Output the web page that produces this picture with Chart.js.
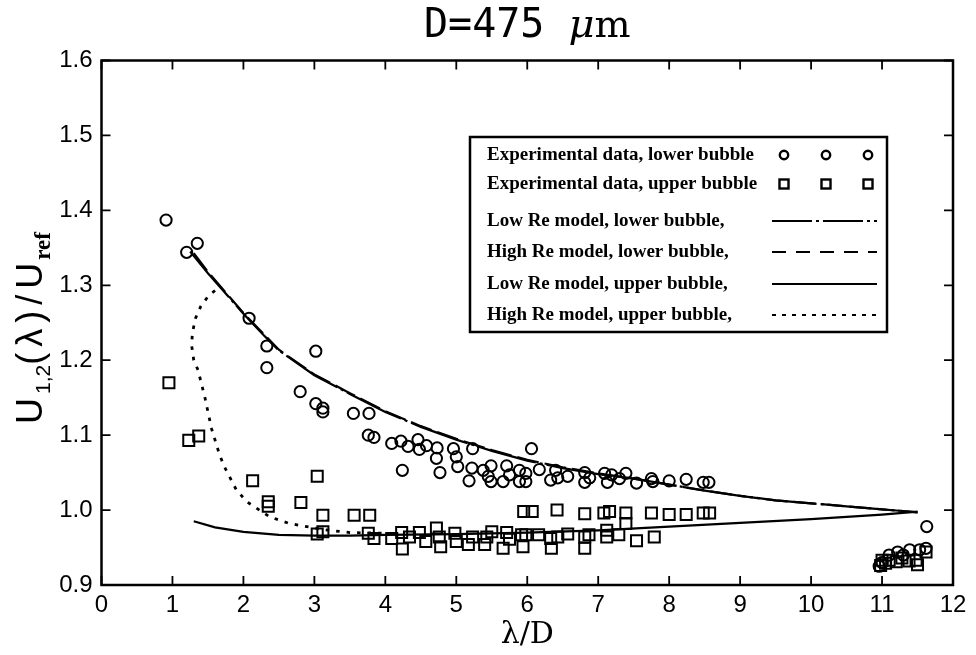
<!DOCTYPE html>
<html>
<head>
<meta charset="utf-8">
<script src="https://cdn.jsdelivr.net/npm/chart.js@4.4.1/dist/chart.umd.min.js"></script>
<style>
  html, body { margin: 0; padding: 0; background: #fff; }
  #wrap { width: 976px; height: 655px; }
</style>
</head>
<body>
<div id="wrap"><canvas id="chart"></canvas></div>
<script>
// Experimental data, lower bubble (circles)
const lowerX = [0.91, 1.2, 1.35, 2.08, 2.33, 2.33, 3.02, 2.80, 3.02, 3.12, 3.12, 3.55, 3.77, 3.76, 3.84, 4.09, 4.22, 4.24, 4.32, 4.46,
  4.48, 4.58, 4.73, 4.72, 4.77, 4.96, 5.00, 5.02, 5.23, 5.22, 5.18, 5.38, 5.45, 5.49, 5.49, 5.66, 5.71, 5.75, 5.89, 5.89,
  5.98, 5.98, 6.06, 6.17, 6.33, 6.40, 6.43, 6.57, 6.81, 6.81, 6.88, 7.09, 7.13, 7.19, 7.30, 7.39, 7.54, 7.75, 7.77, 8.00,
  8.24, 8.48, 8.56, 11.63, 10.96, 11.22, 11.39, 11.53, 11.62, 11.0, 11.1, 11.3];
const lowerY = [1.387, 1.344, 1.356, 1.256, 1.219, 1.190, 1.212, 1.158, 1.142, 1.136, 1.131, 1.129, 1.129, 1.100, 1.097, 1.089, 1.092, 1.053, 1.085, 1.094,
  1.081, 1.086, 1.083, 1.069, 1.050, 1.082, 1.071, 1.058, 1.082, 1.056, 1.039, 1.053, 1.045, 1.059, 1.038, 1.038, 1.059, 1.047, 1.053, 1.038,
  1.049, 1.038, 1.082, 1.054, 1.040, 1.053, 1.043, 1.045, 1.050, 1.037, 1.043, 1.049, 1.037, 1.047, 1.042, 1.049, 1.036, 1.042, 1.038, 1.039,
  1.041, 1.037, 1.037, 0.978, 0.925, 0.944, 0.947, 0.947, 0.949, 0.930, 0.940, 0.940];

// Experimental data, upper bubble (squares)
const upperX = [0.95, 1.23, 1.37, 2.13, 2.35, 2.35, 2.81, 3.04, 3.12, 3.04, 3.12, 3.56, 3.78, 3.76, 3.84, 4.09, 4.23, 4.24, 4.34, 4.48,
  4.57, 4.72, 4.76, 4.78, 4.98, 5.00, 5.17, 5.23, 5.40, 5.43, 5.50, 5.66, 5.71, 5.75, 5.92, 5.94, 5.98, 5.95, 6.07, 6.16,
  6.33, 6.34, 6.42, 6.43, 6.57, 6.81, 6.81, 6.81, 6.87, 7.08, 7.16, 7.12, 7.12, 7.29, 7.39, 7.39, 7.54, 7.75, 7.79, 8.00,
  8.24, 8.48, 8.57, 11.0, 10.98, 11.05, 11.1, 11.2, 11.28, 11.38, 11.48, 11.5, 11.62];
const upperY = [1.170, 1.093, 1.099, 1.039, 1.011, 1.005, 1.010, 1.045, 0.993, 0.968, 0.971, 0.993, 0.993, 0.969, 0.962, 0.962, 0.970, 0.948, 0.964, 0.970,
  0.958, 0.976, 0.964, 0.951, 0.969, 0.958, 0.954, 0.964, 0.954, 0.964, 0.971, 0.949, 0.970, 0.961, 0.967, 0.951, 0.967, 0.998, 0.998, 0.967,
  0.962, 0.949, 1.000, 0.964, 0.968, 0.995, 0.964, 0.949, 0.967, 0.996, 0.998, 0.973, 0.964, 0.967, 0.996, 0.982, 0.959, 0.996, 0.964, 0.994,
  0.994, 0.996, 0.996, 0.933, 0.926, 0.929, 0.933, 0.931, 0.936, 0.932, 0.933, 0.927, 0.944];

// Model curves
const lowReLowerX = [1.25, 1.5, 2.0, 2.28, 2.5, 3.0, 3.5, 4.0, 4.5, 5.0, 5.5, 6.0, 6.5, 7.0, 7.5, 8.0, 8.5, 9.0, 9.5, 10.0, 10.5, 11.0, 11.5];
const lowReLowerY = [1.345, 1.316, 1.262, 1.234, 1.213, 1.180, 1.155, 1.131, 1.111, 1.094, 1.079, 1.066, 1.056, 1.048, 1.042, 1.034, 1.026, 1.019, 1.013, 1.009, 1.005, 1.001, 0.997];
const highReLowerX = [1.3, 1.5, 2.0, 2.5, 3.0, 3.5, 4.0, 4.5, 5.0, 5.5, 6.0, 6.5, 7.0, 7.5, 8.0, 8.5, 9.0, 9.5, 10.0, 10.5, 11.0, 11.5];
const highReLowerY = [1.343, 1.318, 1.263, 1.214, 1.181, 1.156, 1.132, 1.112, 1.095, 1.080, 1.067, 1.057, 1.049, 1.042, 1.034, 1.026, 1.019, 1.013, 1.009, 1.005, 1.001, 0.997];
const lowReUpperX = [1.3, 1.6, 2.0, 2.5, 3.0, 3.5, 4.0, 5.0, 6.0, 7.0, 8.0, 9.0, 10.0, 11.0, 11.5];
const lowReUpperY = [0.985, 0.977, 0.971, 0.967, 0.966, 0.966, 0.967, 0.968, 0.970, 0.973, 0.978, 0.983, 0.988, 0.994, 0.998];
const highReUpperX = [1.6, 1.5, 1.4, 1.32, 1.28, 1.27, 1.3, 1.36, 1.46, 1.55, 1.65, 1.72, 1.9, 2.05, 2.37, 2.65, 3.12, 3.5, 4.0];
const highReUpperY = [1.293, 1.285, 1.272, 1.255, 1.235, 1.220, 1.200, 1.187, 1.149, 1.109, 1.078, 1.060, 1.027, 1.011, 0.991, 0.982, 0.974, 0.970, 0.969];

const xTicks = [0, 1, 2, 3, 4, 5, 6, 7, 8, 9, 10, 11, 12];
const yTicks = [0.9, 1.0, 1.1, 1.2, 1.3, 1.4, 1.5, 1.6];

const legendLabels = [
  'Experimental data, lower bubble',
  'Experimental data, upper bubble',
  'Low Re model, lower bubble,',
  'High Re model, lower bubble,',
  'Low Re model, upper bubble,',
  'High Re model, upper bubble,'
];

const pts = (xs, ys) => xs.map((x, i) => ({ x: x, y: ys[i] }));

const curve = (label, xs, ys, dash, width) => ({
  label: label,
  data: pts(xs, ys),
  showLine: true,
  pointRadius: 0,
  borderColor: '#000',
  borderWidth: width || 2.2,
  borderDash: dash,
  fill: false
});

// draws a run of text pieces, each with its own font, spacing and baseline shift
function drawPieces(ctx, parts, x) {
  parts.forEach(p => {
    ctx.font = p.f;
    ctx.letterSpacing = p.ls || '0px';
    ctx.fillText(p.t, x, p.dy);
    x += ctx.measureText(p.t).width;
  });
}
function piecesWidth(ctx, parts) {
  let w = 0;
  parts.forEach(p => {
    ctx.font = p.f;
    ctx.letterSpacing = p.ls || '0px';
    w += ctx.measureText(p.t).width;
  });
  return w;
}

// title centred on the plot area
const titlePlugin = {
  id: 'plotTitle',
  afterDraw(chart) {
    const ctx = chart.ctx;
    const a = chart.chartArea;
    const parts = [
      { t: 'D=475 ', f: '40px "DejaVu Sans Mono"', dy: 0 },
      { t: 'μ', f: 'italic 40px "DejaVu Serif"', dy: 0 },
      { t: 'm', f: '38px "DejaVu Serif"', dy: 0 }
    ];
    ctx.save();
    ctx.fillStyle = '#000';
    ctx.textBaseline = 'alphabetic';
    const w = piecesWidth(ctx, parts);
    ctx.translate(0, 37);
    drawPieces(ctx, parts, (a.left + a.right) / 2 - w / 2);
    ctx.restore();
  }
};

// frame with inward ticks on all four sides
const framePlugin = {
  id: 'frame',
  afterDraw(chart) {
    const ctx = chart.ctx;
    const a = chart.chartArea;
    const xs = chart.scales.x, ys = chart.scales.y;
    ctx.save();
    ctx.strokeStyle = '#000';
    ctx.lineWidth = 2.5;
    ctx.strokeRect(a.left, a.top, a.right - a.left, a.bottom - a.top);
    ctx.lineWidth = 1.8;
    ctx.beginPath();
    xTicks.forEach(v => {
      const px = xs.getPixelForValue(v);
      ctx.moveTo(px, a.bottom); ctx.lineTo(px, a.bottom - 9);
      ctx.moveTo(px, a.top); ctx.lineTo(px, a.top + 9);
    });
    yTicks.forEach(v => {
      const py = ys.getPixelForValue(v);
      ctx.moveTo(a.left, py); ctx.lineTo(a.left + 9, py);
      ctx.moveTo(a.right, py); ctx.lineTo(a.right - 9, py);
    });
    ctx.stroke();
    ctx.restore();
  }
};

// y axis title with subscripts
const yTitlePlugin = {
  id: 'yTitle',
  afterDraw(chart) {
    const ctx = chart.ctx;
    const parts = [
      { t: 'U', f: '36px "Liberation Sans"', dy: 0, ls: '4px' },
      { t: '1,2', f: '21px "Liberation Sans"', dy: 8 },
      { t: '(λ)/', f: '36px "Liberation Sans"', dy: 0, ls: '6px' },
      { t: 'U', f: '36px "Liberation Sans"', dy: 0, ls: '3px' },
      { t: 'ref', f: 'bold 23px "Liberation Serif"', dy: 8 }
    ];
    ctx.save();
    ctx.fillStyle = '#000';
    ctx.textBaseline = 'alphabetic';
    const w = piecesWidth(ctx, parts);
    ctx.translate(42, 328);
    ctx.rotate(-Math.PI / 2);
    drawPieces(ctx, parts, -w / 2);
    ctx.restore();
  }
};

// boxed legend inside plot
const legendPlugin = {
  id: 'boxLegend',
  afterDraw(chart) {
    const ctx = chart.ctx;
    const rows = [155, 184, 221, 252, 284, 315];
    ctx.save();
    ctx.strokeStyle = '#000';
    ctx.fillStyle = '#fff';
    ctx.lineWidth = 2.5;
    ctx.fillRect(470, 137, 417, 195);
    ctx.strokeRect(470, 137, 417, 195);
    ctx.fillStyle = '#000';
    ctx.font = 'bold 19px "Liberation Serif"';
    ctx.textBaseline = 'middle';
    legendLabels.forEach((t, i) => ctx.fillText(t, 487, rows[i]));
    const cols = [784, 826, 868];
    ctx.lineWidth = 2.4;
    cols.forEach(cx => {
      ctx.beginPath();
      ctx.arc(cx, rows[0], 4.2, 0, Math.PI * 2);
      ctx.stroke();
      ctx.strokeRect(cx - 4.5, rows[1] - 4.5, 9, 9);
    });
    ctx.lineWidth = 2.2;
    const dashes = [[40, 4, 3, 4], [14, 10], [], [4, 6]];
    dashes.forEach((d, i) => {
      ctx.setLineDash(d);
      ctx.beginPath();
      ctx.moveTo(772, rows[i + 2]);
      ctx.lineTo(877, rows[i + 2]);
      ctx.stroke();
    });
    ctx.restore();
  }
};

new Chart(document.getElementById('chart'), {
  type: 'scatter',
  data: {
    datasets: [
      {
        label: legendLabels[0],
        data: pts(lowerX, lowerY),
        pointStyle: 'circle',
        pointRadius: 5.6,
        pointBorderWidth: 2,
        pointBorderColor: '#000',
        pointBackgroundColor: 'rgba(255,255,255,0)'
      },
      {
        label: legendLabels[1],
        data: pts(upperX, upperY),
        pointStyle: 'rect',
        pointRadius: 7.8,
        pointBorderWidth: 2,
        pointBorderColor: '#000',
        pointBackgroundColor: 'rgba(255,255,255,0)'
      },
      curve(legendLabels[2], lowReLowerX, lowReLowerY, [60, 4, 3, 4]),
      curve(legendLabels[3], highReLowerX, highReLowerY, [22, 6]),
      curve(legendLabels[4], lowReUpperX, lowReUpperY, []),
      curve(legendLabels[5], highReUpperX, highReUpperY, [3.5, 7], 2.8)
    ]
  },
  options: {
    responsive: true,
    maintainAspectRatio: false,
    animation: false,
    layout: { padding: { left: 0, right: 23, top: 60.5, bottom: 0 } },
    scales: {
      x: {
        type: 'linear',
        min: 0,
        max: 12,
        grid: { display: false, drawTicks: false },
        border: { display: false },
        ticks: {
          stepSize: 1,
          padding: 6,
          color: '#000',
          font: { family: '"Liberation Sans"', size: 24 }
        },
        title: {
          display: true,
          text: 'λ/D',
          color: '#000',
          font: { family: '"DejaVu Serif"', size: 30 },
          padding: { top: 0, bottom: 2 }
        },
        afterFit: s => { s.height = 70; }
      },
      y: {
        type: 'linear',
        min: 0.9,
        max: 1.6,
        grid: { display: false, drawTicks: false },
        border: { display: false },
        ticks: {
          stepSize: 0.1,
          padding: 9,
          color: '#000',
          font: { family: '"Liberation Sans"', size: 24 },
          callback: v => v.toFixed(1)
        },
        afterFit: s => { s.width = 101.5; }
      }
    },
    plugins: {
      legend: { display: false },
      tooltip: { enabled: false },
      title: { display: false }
    }
  },
  plugins: [framePlugin, titlePlugin, yTitlePlugin, legendPlugin]
});
</script>
</body>
</html>
